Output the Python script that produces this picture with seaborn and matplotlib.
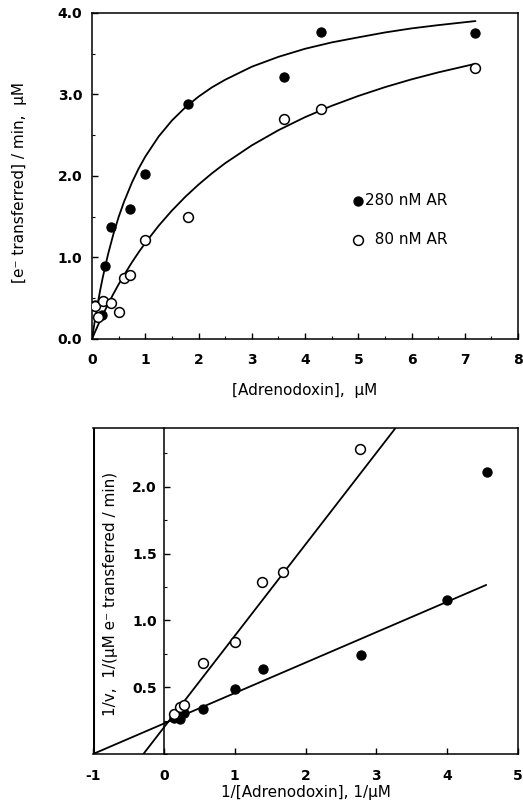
import matplotlib
matplotlib.use("Agg")
import matplotlib.pyplot as plt
import seaborn as sns
import pandas as pd
from matplotlib.ticker import MultipleLocator, FormatStrFormatter

# --- data ---
# velocity plot, 280 nM AR (filled) and 80 nM AR (open)
adx_280 = [0.05, 0.20, 0.18, 0.25, 0.35, 0.72, 1.0, 1.8, 3.6, 4.3, 7.2]
rate_280 = [0.42, 0.47, 0.29, 0.90, 1.37, 1.59, 2.02, 2.88, 3.21, 3.77, 3.75]
adx_80 = [0.05, 0.12, 0.20, 0.36, 0.50, 0.60, 0.72, 1.0, 1.8, 3.6, 4.3, 7.2]
rate_80 = [0.40, 0.27, 0.47, 0.44, 0.33, 0.75, 0.79, 1.21, 1.49, 2.70, 2.82, 3.33]

# fitted hyperbolas
curve_x = [0, 0.05, 0.1, 0.15, 0.2, 0.3, 0.4, 0.5, 0.6, 0.75, 0.875, 1.0, 1.25, 1.5, 1.75,
           2.0, 2.25, 2.5, 3.0, 3.5, 4.0, 4.5, 5.0, 5.5, 6.0, 6.5, 7.2]
curve_280 = [0, 0.215, 0.41, 0.588, 0.751, 1.038, 1.284, 1.497, 1.682, 1.92, 2.09, 2.237,
             2.483, 2.68, 2.84, 2.973, 3.086, 3.18, 3.34, 3.461, 3.56, 3.638, 3.70, 3.76,
             3.81, 3.85, 3.90]
curve_80 = [0, 0.077, 0.151, 0.223, 0.293, 0.426, 0.552, 0.671, 0.783, 0.941, 1.063, 1.178,
            1.388, 1.575, 1.743, 1.894, 2.031, 2.156, 2.375, 2.561, 2.721, 2.86, 2.981, 3.089,
            3.185, 3.27, 3.376]

# double reciprocal plot
inv_adx_280 = [0.14, 0.23, 0.28, 0.555, 1.0, 1.40, 2.78, 4.0, 4.56]
inv_rate_280 = [0.27, 0.265, 0.31, 0.34, 0.49, 0.635, 0.74, 1.15, 2.11]
inv_adx_80 = [0.14, 0.23, 0.28, 0.555, 1.0, 1.39, 1.68, 2.77]
inv_rate_80 = [0.30, 0.355, 0.37, 0.68, 0.84, 1.29, 1.36, 2.28]

line_280_x = [-1.0, 4.55]
line_280_y = [0.0, 1.265]
line_80_x = [-0.29, 3.30]
line_80_y = [0.0, 2.46]

sns.set_style("ticks")
plt.rcParams['font.family'] = ['DejaVu Sans']
plt.rcParams['axes.linewidth'] = 1.1
plt.rcParams['axes.unicode_minus'] = False
for key in ['text.color', 'axes.labelcolor', 'xtick.color', 'ytick.color', 'axes.edgecolor']:
    plt.rcParams[key] = 'black'

fig = plt.figure(figsize=(5.23, 8.07), dpi=100)
ax1 = fig.add_axes([0.176, 0.580, 0.8145, 0.404])
ax2 = fig.add_axes([0.178, 0.0657, 0.8126, 0.404])

filled = dict(color='black', edgecolor='black', s=44, linewidth=0.8, zorder=3)
hollow = dict(color='white', edgecolor='black', s=50, linewidth=1.1, zorder=3)

# ---- top: rate vs [Adrenodoxin] ----
sns.lineplot(x=curve_x, y=curve_280, ax=ax1, color='black', lw=1.3, sort=False, estimator=None)
sns.lineplot(x=curve_x, y=curve_80, ax=ax1, color='black', lw=1.3, sort=False, estimator=None)
sns.scatterplot(x=adx_280, y=rate_280, ax=ax1, label='280 nM AR', **filled)
sns.scatterplot(x=adx_80, y=rate_80, ax=ax1, label='  80 nM AR', **hollow)

ax1.set_xlim(0, 8)
ax1.set_ylim(0, 4)
ax1.xaxis.set_major_locator(MultipleLocator(1))
ax1.xaxis.set_minor_locator(MultipleLocator(0.5))
ax1.yaxis.set_major_locator(MultipleLocator(1))
ax1.yaxis.set_minor_locator(MultipleLocator(0.5))
ax1.yaxis.set_major_formatter(FormatStrFormatter('%.1f'))
ax1.tick_params(which='both', direction='in', top=False, right=False)
ax1.tick_params(which='major', length=4, width=1)
ax1.tick_params(which='minor', length=2.5, width=0.8)
ax1.tick_params(axis='x', which='major', pad=10, labelsize=10)
ax1.tick_params(axis='y', which='major', pad=7, labelsize=10)
for lab in ax1.get_xticklabels() + ax1.get_yticklabels():
    lab.set_fontweight('bold')

ax1.set_xlabel('[Adrenodoxin],  µM', fontsize=11)
ax1.xaxis.set_label_coords(0.5, -0.135)
ax1.set_ylabel('[e⁻ transferred] / min,  µM', fontsize=11)
ax1.yaxis.set_label_coords(-0.153, 0.48)

ax1.legend(loc='center left', bbox_to_anchor=(0.59, 0.365), frameon=False, fontsize=11,
           handletextpad=0.02, labelspacing=1.6, handlelength=0.9, borderpad=0)

# ---- bottom: Lineweaver-Burk ----
sns.lineplot(x=line_280_x, y=line_280_y, ax=ax2, color='black', lw=1.3, sort=False, estimator=None)
sns.lineplot(x=line_80_x, y=line_80_y, ax=ax2, color='black', lw=1.3, sort=False, estimator=None)
sns.scatterplot(x=inv_adx_280, y=inv_rate_280, ax=ax2, **filled)
sns.scatterplot(x=inv_adx_80, y=inv_rate_80, ax=ax2, **hollow)

ax2.set_xlim(-1, 5)
ax2.set_ylim(0, 2.44)
ax2.spines['left'].set_position(('data', 0))
ax2.axvline(-1, color='black', lw=2.2, zorder=4)
ax2.xaxis.set_major_locator(MultipleLocator(1))
ax2.yaxis.set_minor_locator(MultipleLocator(0.25))
ax2.set_yticks([0.5, 1.0, 1.5, 2.0])
ax2.yaxis.set_major_formatter(FormatStrFormatter('%.1f'))
ax2.tick_params(which='both', direction='in', top=False, right=False)
ax2.tick_params(which='major', length=4, width=1)
ax2.tick_params(which='minor', length=2.5, width=0.8)
ax2.tick_params(axis='x', which='major', pad=11, labelsize=10)
ax2.tick_params(axis='y', which='major', pad=5, labelsize=10)
for lab in ax2.get_xticklabels() + ax2.get_yticklabels():
    lab.set_fontweight('bold')

ax2.set_xlabel('1/[Adrenodoxin], 1/µM', fontsize=11)
ax2.xaxis.set_label_coords(0.5, -0.095)
ax2.set_ylabel('1/v,  1/(µM e⁻ transferred / min)', fontsize=11)
ax2.yaxis.set_label_coords(0.058, 0.49)

fig.savefig('out.png', dpi=100)
